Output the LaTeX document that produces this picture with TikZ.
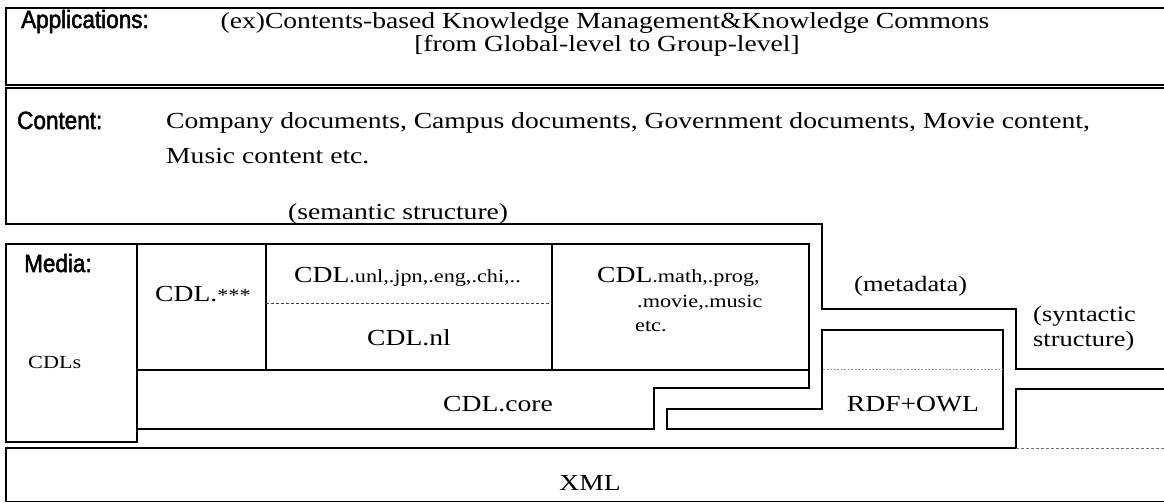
\documentclass[tikz,border=0pt]{standalone}
\usepackage{fontspec}
\setmainfont{Liberation Serif}[FakeStretch=1.2]
\newfontfamily\labfont{Liberation Sans}[FakeBold=2,FakeStretch=0.9]
\newcommand\cdlsmall{\fontsize{18.5}{19}\selectfont}
\newcommand\cdlbig{\fontsize{23}{24}\selectfont}
\newcommand\cdlmid{\fontsize{22}{23}\selectfont}
\begin{document}
\begin{tikzpicture}[x=1pt,y=-1pt,
  lay/.style={line width=1.8pt, line join=miter, line cap=rect},
  grid dash/.style={line width=0.8pt, black!75, dash pattern=on 3pt off 2pt},
  grid dot/.style={line width=0.9pt, black!40, dash pattern=on 2pt off 1.5pt},
  lbl/.style={inner sep=0pt, anchor=base west, font=\labfont\fontsize{25}{26}\selectfont},
  txt/.style={inner sep=0pt, anchor=base west, font=\cdlbig},
  ctxt/.style={inner sep=0pt, anchor=base, font=\cdlbig},
  stxt/.style={inner sep=0pt, anchor=base west, font=\cdlsmall},
  mtxt/.style={inner sep=0pt, anchor=base west, font=\cdlmid}]
\useasboundingbox (0,0) rectangle (1164,503);
\clip (0,0) rectangle (1164,503);
\fill[white] (0,0) rectangle (1164,503);

% Applications layer
\draw[lay] (1175,8) -- (6,8) -- (6,85) -- (1175,85);
% Content layer (staircase bottom)
\draw[lay] (1175,88) -- (6,88) -- (6,224) -- (822,224) -- (822,309) -- (1016,309) -- (1016,369) -- (1175,369);
% Media box
\draw[lay] (6,244) rectangle (137,442);
% CDL outer shape
\draw[lay] (137,244) -- (809,244) -- (809,388) -- (654,388) -- (654,429) -- (137,429);
\draw[lay] (137,370) -- (809,370);
\draw[lay] (266,244) -- (266,370);
\draw[lay] (552,244) -- (552,370);
\draw[grid dash] (266,303) -- (552,303);
% RDF+OWL shape
\draw[lay] (822,330) -- (1003,330) -- (1003,429) -- (667,429) -- (667,409) -- (822,409) -- cycle;
\draw[grid dot] (823,369) -- (1002,369);
% XML layer
\draw[lay] (1175,389) -- (1016,389) -- (1016,448) -- (6,448) -- (6,501.5) -- (1175,501.5);
\draw[grid dash, black!55] (1016,448) -- (1175,448);

% Texts
\node[lbl] (applbl) at (21,28) {Applications:};
\node[ctxt] (app1) at (605,29) {(ex)Contents-based Knowledge Management\&Knowledge Commons};
\node[ctxt] (app2) at (607,52) {[from Global-level to Group-level]};
\node[lbl] (conlbl) at (17,129) {Content:};
\node[txt] (con1) at (166,128) {Company documents, Campus documents, Government documents, Movie content,};
\node[txt] (con2) at (166,163) {Music content etc.};
\node[txt] (sem) at (288,219) {(semantic structure)};
\node[mtxt] (meta) at (854,291) {(metadata)};
\node[mtxt] (syn1) at (1033,321) {(syntactic};
\node[mtxt] (syn2) at (1033,346) {structure)};
\node[lbl] (medlbl) at (24,272) {Media:};
\node[stxt] (cdls) at (28,368) {CDLs};
\node[txt] (cdlx) at (155,301) {CDL.{\cdlsmall***}};
\node[txt] (cdlunl) at (294,282) {CDL{\cdlsmall.unl,.jpn,.eng,.chi,..}};
\node[ctxt] (cdlnl) at (409,345) {CDL.nl};
\node[txt] (cdlmath) at (597,282) {CDL{\cdlsmall.math,.prog,}};
\node[stxt] (cdlmath2) at (637,307) {.movie,.music};
\node[stxt] (cdlmath3) at (635,331) {etc.};
\node[ctxt] (core) at (498,411) {CDL.core};
\node[ctxt] (rdf) at (913,411) {RDF+OWL};
\node[ctxt] (xml) at (590,490) {XML};
\end{tikzpicture}
\end{document}
